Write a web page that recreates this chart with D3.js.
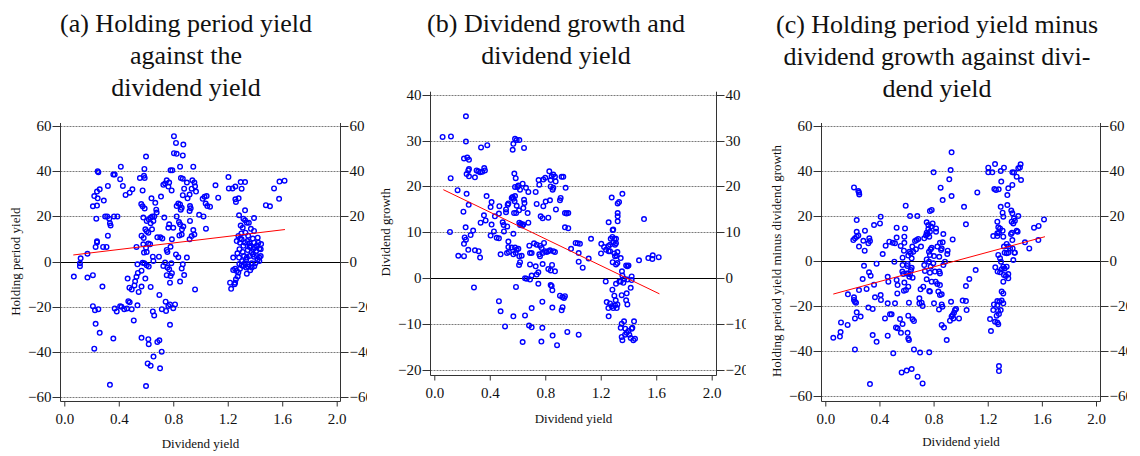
<!DOCTYPE html>
<html>
<head>
<meta charset="utf-8">
<script src="https://cdn.jsdelivr.net/npm/d3@7"></script>
<style>
  body { margin: 0; background: #fff; }
  svg text { font-family: "Liberation Serif", "Times New Roman", serif; fill: #111; }
</style>
</head>
<body>
<svg id="chart" width="1140" height="456"></svg>
<script>
// ---- data ----
const xTicks = [0, 0.4, 0.8, 1.2, 1.6, 2.0]
const yTicksA = [-60, -40, -20, 0, 20, 40, 60]
const yTicksB = [-20, -10, 0, 10, 20, 30, 40]
const yTicksC = [-60, -40, -20, 0, 20, 40, 60]

const titleA = ["(a) Holding period yield", "against the", "dividend yield"]
const titleB = ["(b) Dividend growth and", "dividend yield"]
const titleC = ["(c) Holding period yield minus", "dividend growth against divi-", "dend yield"]

const xLabel = "Dividend yield"
const yLabelA = "Holding period yield"
const yLabelB = "Dividend growth"
const yLabelC = "Holding period yield minus dividend growth"

// fitted lines (end points)
const fitA = [[0.066, 2.95], [1.62, 14.2]]
const fitB = [[0.065, 19.3], [1.623, -3.4]]
const fitC = [[0.059, -14.7], [1.623, 10.8]]

// (a) holding period yield vs dividend yield
const pointsA = [
[0.07,-6.6],[0.12,1.5],[0.115,-0.7],[0.115,-2],[0.17,3.5],[0.17,-7],[0.21,-6],[0.21,-19.7],[0.225,-21.5],[0.25,-21],
[0.23,-27.5],[0.22,-38.5],[0.26,-31.5],[0.28,-11],[0.21,24.5],[0.24,24.8],[0.22,29],[0.24,31],[0.26,32],[0.245,40],
[0.25,39.5],[0.245,28],[0.235,19],[0.24,9],[0.24,8.5],[0.23,6.5],[0.285,6.5],[0.31,6.5],[0.29,27],[0.32,33.5],
[0.3,20],[0.315,20],[0.33,19],[0.335,17],[0.34,16],[0.32,11.5],[0.365,20],[0.36,38.5],[0.37,38.5],[0.335,-54.5],
[0.36,-34],[0.37,-20.7],[0.385,-22],[0.39,20],
[0.415,42],[0.41,36.5],[0.43,33.5],[0.45,29.5],[0.48,30.5],[0.5,32],[0.41,-19.7],[0.42,-20],[0.44,-21],[0.46,-20.7],
[0.47,-17.5],[0.48,-18],[0.495,-21],[0.465,-7.5],[0.478,-11.5],[0.495,-12.3],[0.51,-26],[0.515,-10.5],[0.52,-8.7],[0.53,-6.7],
[0.54,-5],[0.537,-1.2],[0.546,-13.4],[0.537,-19.3],[0.53,6.5],[0.555,37],[0.585,38],[0.59,37],[0.588,41],[0.6,46.5],
[0.575,31.5],[0.565,25.5],[0.575,24.5],[0.59,23.5],[0.58,19.5],[0.567,11.5],[0.583,10.5],[0.595,14.3],[0.605,13.5],[0.617,12.8],
[0.605,18],[0.62,18.7],[0.635,19.5],[0.646,20],[0.654,18],[0.66,20],[0.668,26],[0.64,28],[0.675,23],[0.678,21.7],
[0.644,14.3],[0.634,17],[0.58,7.7],[0.6,6.2],[0.617,8],[0.63,7.7],[0.605,4.3],[0.585,4],[0.575,-0.5],[0.567,-4],
[0.588,-0.7],[0.605,-1.6],[0.62,-2.2],[0.595,-7.5],[0.567,-11],[0.634,-11.2],[0.65,2.2],[0.654,0.3],[0.683,10.8],[0.705,10.8],
[0.72,10.2],[0.695,2.2],[0.698,-14.7],[0.716,-21],[0.65,-22],[0.66,-23.8],[0.567,-33.7],[0.617,-34.3],[0.62,-36.5],[0.683,-35.5],
[0.698,-34.8],[0.715,-39.8],[0.655,-42],[0.612,-45],[0.634,-46],[0.703,-47.2],[0.6,-55],[0.71,28.8],[0.727,34],[0.74,34.6],
[0.752,36],[0.764,33.2],[0.77,35],[0.78,40.4],[0.793,40.4],[0.788,31.5],[0.734,19.5],[0.77,16.5],[0.764,15],[0.8,15],
[0.79,9.9],[0.78,6.6],[0.752,5.2],[0.757,4.3],[0.74,-0.4],[0.727,-1.9],[0.757,-2.6],[0.77,-3.4],[0.752,-6],[0.786,-0.7],
[0.78,-6.3],[0.79,-5.1],[0.776,-9.3],[0.744,-17.7],[0.764,-19.6],[0.776,-18.9],[0.813,-18.9],[0.747,-21.8],[0.776,-27.9],[0.8,-20.6],
[0.805,55.5],[0.82,52.5],[0.874,51.8],[0.805,48],[0.825,47.7],[0.87,47],[0.85,42],[0.947,42],[0.856,37],[0.87,36.7],
[0.88,32.3],[0.9,35],[0.94,36],[0.955,35],[0.96,33.3],[0.935,32.3],[0.967,31],[0.92,29.7],[0.905,28],[0.923,24.6],
[0.928,23.6],[0.87,29.4],[0.825,24.6],[0.837,25.7],[0.85,25.3],[0.862,23.8],[0.855,23],[0.825,20],[0.842,17.5],[0.85,16.5],
[0.864,14.3],[0.874,15.5],[0.862,12],[0.845,11.6],[0.92,22.4],[0.923,18],[0.92,9.9],[0.935,11.3],[0.947,14],[0.955,12],
[0.9,1.8],[0.82,3.2],[0.837,2],[0.87,-1.2],[0.862,-3],[0.85,-8.8],[0.88,-5.9],[0.96,-12.3],[0.99,20.7],[1.022,20],
[1.016,27.8],[1.03,28.7],[1.045,29],[1.038,25.7],[1.05,24.6],[1.07,24.3],[1.04,14.6],[1.11,33.8],[1.13,28.3],[1.205,37.4],
[1.208,32.4],[1.235,32.4],[1.256,33.2],[1.217,-9.3],[1.225,-12],
[1.295,35.2],[1.327,35.2],[1.302,32.3],[1.256,27.6],[1.28,28],[1.26,26.4],[1.327,22.7],[1.283,20.5],[1.295,16],[1.315,19],
[1.327,18.3],[1.34,17.2],[1.355,17.2],[1.31,15],[1.393,19.3],[1.393,13.6],[1.278,11.4],[1.29,10.2],[1.266,9.1],[1.29,8.4],
[1.302,9.9],[1.315,7],[1.327,8.4],[1.344,9.1],[1.359,8.1],[1.369,7],[1.384,10.2],[1.393,8.4],[1.4,6.2],[1.413,7.2],
[1.425,8.4],[1.432,5.7],[1.442,5.5],[1.388,5.5],[1.376,4.3],[1.347,5.1],[1.31,4.3],[1.286,5.5],[1.271,3.7],[1.24,1.8],
[1.283,1.8],[1.32,2.5],[1.34,1.8],[1.36,2.5],[1.393,2.2],[1.413,2.5],[1.432,1.8],[1.442,2.5],[1.432,0.3],[1.403,-0.7],
[1.376,-0.7],[1.35,-1.2],[1.325,-0.7],[1.315,-1.9],[1.335,-2.6],[1.35,-2.2],[1.376,-2.6],[1.302,-1.6],[1.29,-3.1],[1.254,-3.1],
[1.24,-3.7],[1.266,-4.1],[1.278,-4.8],[1.34,-5.3],[1.273,-6.6],[1.26,-7.8],[1.254,-9.3],[1.25,-10],[1.48,25],[1.51,24.5],
[1.54,32.4],[1.58,35.4],[1.617,35.8],[1.577,27.8],
[1.36,6.5],[1.385,3.2],[1.41,4.8],[1.42,1],[1.335,0.8],[1.305,0.2],[1.365,-3.8],[1.395,-2],[1.35,11.5],[1.37,14.5],
[1.3,12.5],[1.33,12.8],[1.42,10.6],[1.445,7.8],[1.285,-1]
]

// (b) dividend growth vs dividend yield
const pointsB = [
[0.06,30.8],[0.12,30.9],[0.228,35.3],[0.228,29.8],[0.118,21.8],[0.113,10.1],[0.168,19.2],[0.214,26.1],[0.238,26.3],[0.25,25.8],
[0.25,23.8],[0.245,23.5],[0.233,22.7],[0.25,22.2],[0.293,22],[0.305,23.5],[0.317,23.3],[0.33,23.1],[0.346,23.2],[0.36,24],
[0.365,23.5],[0.337,28.5],[0.382,29],[0.233,18.4],[0.248,16],[0.21,14.5],[0.226,11.1],[0.219,8.9],[0.228,8.4],[0.214,7.5],
[0.245,6.2],[0.262,9.4],[0.28,10.4],[0.173,4.9],[0.214,4.8],[0.293,6.1],[0.32,5.9],[0.33,4.5],[0.286,-2],[0.334,12.1],
[0.358,13.7],[0.37,12.6],[0.377,17.9],[0.406,9.3],[0.413,11.7],[0.413,16.6],[0.406,15.5],[0.43,10.2],[0.437,13.5],[0.45,8.8],
[0.469,15.7],[0.466,14.1],[0.478,5.2],[0.466,8.7],[0.493,12.2],[0.5,11.6],[0.502,10.2],[0.517,14.4],[0.517,15],[0.526,11.3],
[0.529,16],[0.534,16.3],[0.534,8],[0.534,6.8],[0.524,5.5],[0.538,5.7],[0.558,17.5],[0.565,17.7],[0.57,17.3],[0.582,17.9],
[0.579,16.8],[0.565,28],[0.57,29.3],[0.582,30.4],[0.594,30.1],[0.613,30.1],[0.647,28.4],[0.577,22.8],[0.587,21.8],[0.582,19.9],
[0.599,19.9],[0.606,20.2],[0.618,19.3],[0.637,20.6],[0.661,19.7],[0.678,18.8],[0.647,17.1],[0.65,16.4],[0.594,15.8],[0.575,14.2],
[0.59,14.2],[0.611,14.8],[0.642,15.3],[0.673,14.2],[0.613,12.1],[0.625,11.9],[0.635,11.5],[0.642,11.7],[0.618,11.6],[0.678,12.1],
[0.57,9.7],[0.558,6.7],[0.582,6.7],[0.594,6.2],[0.606,6.4],[0.57,5.2],[0.587,5.5],[0.613,4.8],[0.63,4.9],[0.611,2.9],
[0.618,3.5],[0.654,0],[0.666,-0.1],[0.69,3],[0.69,-0.3],[0.702,0.6],[0.702,5.5],[0.69,5.5],[0.685,7.1],[0.719,7.6],
[0.738,7.3],[0.738,16.2],[0.731,18.8],[0.752,21.4],[0.757,20.4],[0.762,7.1],[0.774,6.6],[0.757,5.2],[0.762,4.8],[0.781,5.5],
[0.791,7.7],[0.798,5.9],[0.81,5.7],[0.822,5.9],[0.834,6.1],[0.858,5.9],[0.87,5.7],[0.767,13.5],[0.781,13.1],[0.822,13.2],
[0.786,15.7],[0.803,16.7],[0.834,17],[0.786,21.5],[0.8,21.9],[0.829,23.3],[0.839,21.4],[0.853,19.3],[0.846,22.2],[0.858,22.6],
[0.87,22.1],[0.875,21.1],[0.858,19.7],[0.839,20],[0.877,15],[0.911,17.5],[0.918,22.1],[0.93,22.1],[0.947,19.7],[0.906,17],
[0.942,14.2],[0.954,14.1],[0.966,14.2],[0.942,11.1],[0.966,10.9],[0.731,2.6],[0.75,1.3],[0.738,0.8],[0.781,3.1],[0.822,2],
[0.839,1.7],[0.87,1.5],[0.849,2.9],[0.75,-1.2],[0.839,-1.5],[0.846,-1.7],[0.851,-2.6],[0.906,-3.8],[0.923,-4.1],[0.935,-4.3],
[0.942,-3.9],[0.925,-6.3],[0.918,-7],[0.779,-5.1],[0.851,-6.4],[0.702,-6.5],[0.589,-1.9],[0.654,-8.1],[0.683,-10.3],
[0.702,-10.7],[0.779,-10.8],[0.51,-10.5],[0.57,-8.3],[0.466,-5],[0.478,-7.2],[0.637,-13.9],[0.772,-13.8],[0.853,-12.5],[0.885,-14.6],
[0.959,-11.7],[1.041,-12.3],[0.986,6.4],[1.019,7.7],[1.034,7.6],[1.05,7.5],[1.041,5.5],[1.041,3.6],[1.07,2.3],[1.113,4.3],
[1.13,8.6],[1.204,7.5],[1.202,5.4],[1.224,6.8],[1.238,6.2],[1.255,7],[1.267,7.3],[1.257,12.2],[1.272,8.6],[1.284,9],
[1.286,10.5],[1.29,10.6],[1.279,17.6],[1.298,8.6],[1.31,8.6],[1.29,7.8],[1.303,7.3],[1.31,7.6],[1.257,5.9],[1.267,5.9],
[1.286,3.5],[1.298,5.4],[1.303,4.8],[1.315,4.9],[1.31,3],[1.32,3.3],[1.344,4.4],[1.32,5.7],[1.322,16.3],[1.332,16.6],
[1.322,14.2],[1.322,13.5],[1.322,12.4],[1.356,18.4],[1.353,1.5],[1.356,0.6],[1.37,-0.1],[1.363,-1],[1.392,-0.3],[1.4,2.8],
[1.392,2.6],[1.383,2.8],[1.423,0.4],[1.423,-0.4],[1.344,-0.7],[1.334,-0.7],[1.31,-1.2],[1.236,-0.7],[1.284,-2.5],[1.298,-3.8],
[1.351,-3.7],[1.387,-3.3],[1.383,-4.8],[1.392,-5.7],[1.416,-2.1],[1.243,-5.2],[1.255,-6.5],[1.267,-5.5],[1.279,-6.1],[1.29,-6.5],
[1.303,-5.9],[1.315,-6.5],[1.308,-4.8],[1.32,-5.7],[1.257,-8.3],[1.344,-10.8],[1.351,-9.9],[1.368,-9.4],[1.351,-12.8],[1.356,-13.5],
[1.375,-12.3],[1.387,-11.9],[1.399,-11.5],[1.406,-12.3],[1.377,-11],[1.423,-11],[1.428,-10.8],[1.44,-9.4],[1.416,-13],[1.435,-13.5],
[1.447,-13.2],[1.512,12.9],[1.476,3.9],[1.543,4.4],[1.575,5],[1.572,4.2],[1.618,4.6]
]

// (c) holding period yield minus dividend growth vs dividend yield
const pointsC = [
[0.059,-34.1],[0.108,-33.6],[0.113,-31.6],[0.116,-27.3],[0.165,-28.4],[0.167,-14.8],[0.212,32.7],[0.244,31.1],[0.249,30.4],[0.251,29.6],
[0.207,9.3],[0.219,10.1],[0.232,10.8],[0.244,11.3],[0.232,13],[0.232,18.2],[0.249,6.4],[0.281,9],[0.293,13.5],[0.318,7.9],
[0.325,10.1],[0.33,8.9],[0.291,4.6],[0.286,-2.1],[0.276,-8],[0.323,-5],[0.335,-6.5],[0.305,-12.4],[0.212,-16.1],[0.212,-17.3],
[0.219,-18.1],[0.227,-18.5],[0.249,-12.9],[0.232,-22.8],[0.219,-25.5],[0.261,-24.7],[0.318,-20.7],[0.35,-21.3],[0.35,-32.9],[0.379,-35.9],
[0.219,-39.3],[0.33,-54.7],[0.36,-10.5],[0.367,-16.1],[0.36,16],[0.404,16.7],[0.409,19.7],[0.379,-1.2],[0.424,3.1],[0.409,-15.1],
[0.411,-17.3],[0.441,-25.5],[0.446,6.8],[0.461,-7],[0.473,8.6],[0.466,-9.2],[0.461,-18.8],[0.461,-33.2],[0.478,-23.7],[0.49,-23.7],
[0.498,8.1],[0.515,7.9],[0.527,10.4],[0.527,14.8],[0.502,-41],[0.515,-18.8],[0.51,-0.3],[0.527,-8.4],[0.534,-10.7],[0.532,-14.4],
[0.522,-29.5],[0.534,-29.9],[0.552,-25.8],[0.559,-31.9],[0.571,-28],[0.564,-49.5],[0.557,6.7],[0.571,1.5],[0.581,4.6],[0.584,8.1],
[0.584,10.8],[0.589,14.5],[0.594,24.6],[0.571,-1.8],[0.569,-4.7],[0.576,-5.8],[0.584,-9.6],[0.581,-13.2],[0.596,-12.9],[0.601,-5.5],
[0.606,-2.2],[0.608,-1.3],[0.613,2.4],[0.621,4.1],[0.631,3.4],[0.613,-5.5],[0.626,-5.9],[0.621,-7],[0.633,-4],[0.638,-3],
[0.638,1.2],[0.643,6.4],[0.65,4.1],[0.626,20],[0.68,20],[0.613,-11.4],[0.618,-18.5],[0.613,-24.3],[0.608,-31.9],[0.613,-34.4],
[0.618,-35.1],[0.601,-48.7],[0.638,-48],[0.645,-7.4],[0.645,-25.9],[0.655,-26.7],[0.655,-39.3],[0.663,8.9],[0.675,9.3],[0.67,5.2],
[0.687,9.8],[0.682,-51.4],[0.7,-40.7],[0.695,-16.6],[0.695,-18.8],[0.704,-12.6],[0.707,6.4],[0.712,-18.5],[0.719,-20],[0.719,-54.4],
[0.724,-11.4],[0.731,-1.8],[0.736,-4.4],[0.731,10.1],[0.744,11.3],[0.749,-8.1],[0.749,0.7],[0.749,17.2],[0.761,16],[0.761,14.2],
[0.749,12.6],[0.756,12],[0.768,10.8],[0.773,13],[0.781,15.3],[0.793,16.7],[0.773,22.2],[0.786,22.7],[0.8,39.4],[0.766,4.1],
[0.773,2.7],[0.778,5.2],[0.786,5.9],[0.766,-0.3],[0.778,-2.5],[0.773,-5.2],[0.768,-13.3],[0.773,-13.6],[0.768,-40.6],[0.786,-9.2],
[0.798,-1],[0.803,2.2],[0.803,-18.8],[0.81,-4.7],[0.815,-9.2],[0.818,14.5],[0.818,13],[0.828,-10.2],[0.828,6.4],[0.835,-13.6],
[0.84,-21.5],[0.842,-4.7],[0.847,-5.5],[0.847,-10.7],[0.847,-15.1],[0.842,1.9],[0.855,4.9],[0.86,5.6],[0.847,8.1],[0.867,8.3],
[0.872,-1.8],[0.86,-14.8],[0.86,-19.3],[0.865,-20.3],[0.852,32.6],[0.867,27.1],[0.872,12],[0.877,-29.6],[0.86,-28.4],[0.884,-0.3],
[0.897,-35.1],[0.901,3.1],[0.904,4.6],[0.916,36.3],[0.926,40.4],[0.933,48.3],[0.933,28.9],[0.941,9.6],[0.921,-26.5],[0.929,-18.1],
[0.933,-24.7],[0.941,-24],[0.951,-23],[0.958,-21.8],[0.966,-21.3],[0.946,-25.5],[0.988,-25.5],[1.015,-17.6],[1.025,24.1],[1.039,16.3],
[1.039,-11.1],[1.039,-17.8],[1.044,-21.8],[1.064,-8],[1.111,-4],[1.123,30.5],[1.204,39.4],[1.204,41.5],[1.234,39.4],[1.254,43.1],
[1.32,41.5],[1.296,40],[1.249,32],[1.261,31.6],[1.281,31.9],[1.3,35.3],[1.352,32.3],[1.345,29.3],[1.382,39.4],[1.394,39.3],
[1.414,37.5],[1.426,41.2],[1.438,41.6],[1.443,43],[1.446,36],[1.382,33.8],[1.296,24.1],[1.31,21.5],[1.315,19.7],[1.345,24.9],
[1.374,22.4],[1.382,21.2],[1.394,19],[1.377,17.5],[1.389,16.7],[1.401,17.9],[1.426,20],[1.271,17.5],[1.278,15],[1.291,14.5],
[1.271,12.3],[1.283,12.6],[1.241,11.1],[1.271,11.1],[1.31,13.5],[1.315,10.8],[1.372,12],[1.379,12.6],[1.414,13.5],[1.421,13],
[1.382,9.3],[1.475,8.3],[1.507,5.6],[1.542,14.8],[1.576,15.6],[1.616,18.5],[1.574,9.3],[1.34,7.6],[1.352,6.4],[1.365,5.6],
[1.384,5.6],[1.397,3.7],[1.401,3.7],[1.389,0.4],[1.32,6.4],[1.325,3.7],[1.34,3.4],[1.352,3.7],[1.278,2.7],[1.291,1.2],
[1.298,-0.3],[1.315,-2.5],[1.325,-3.3],[1.34,-2.5],[1.303,-3.7],[1.291,-5],[1.273,-4.7],[1.256,-2.8],[1.32,-6.2],[1.335,-6.7],
[1.352,-5.8],[1.352,-7.7],[1.315,-9.2],[1.303,-13.6],[1.315,-14.4],[1.271,-17.8],[1.286,-18.1],[1.303,-17.6],[1.315,-18.8],[1.246,-19.3],
[1.271,-19.6],[1.241,-21.8],[1.276,-22.2],[1.296,-21.8],[1.283,-23.6],[1.266,-24.3],[1.254,-27],[1.271,-27.3],[1.278,-28.1],[1.217,-25.8],
[1.224,-31.1],[1.283,-46.7],[1.283,-48.9]
]

// ---- layout (pixel boxes of each panel) ----
const panels = [
  { title: titleA, yLabel: yLabelA, points: pointsA, fit: fitA, yTicks: yTicksA,
    x0: 64.3, x1: 336.7, yTop: 126, yBot: 397.3, axisL: 60.5, axisR: 340.5, axisB: 401.5,
    clipR: 367, titleX: 186, titleY: 31.7, yLabelX: 20, xLabelY: 448 },
  { title: titleB, yLabel: yLabelB, points: pointsB, fit: fitB, yTicks: yTicksB,
    x0: 434.3, x1: 711.7, yTop: 94.7, yBot: 370, axisL: 430.5, axisR: 716.5, axisB: 375.5,
    clipR: 746, titleX: 556, titleY: 31.7, yLabelX: 390, xLabelY: 423 },
  { title: titleC, yLabel: yLabelC, points: pointsC, fit: fitC, yTicks: yTicksC,
    x0: 825.3, x1: 1096, yTop: 126, yBot: 396, axisL: 821.5, axisR: 1100.5, axisB: 401.5,
    clipR: 1127, titleX: 937, titleY: 33, yLabelX: 781, xLabelY: 446 }
]

const svg = d3.select("#chart")
const defs = svg.append("defs")
const fmt = d3.format(".1f")

panels.forEach(function(p, i){
	const x = d3.scaleLinear().domain([0, 2]).range([p.x0, p.x1])
	const yMin = d3.min(p.yTicks), yMax = d3.max(p.yTicks)
	const y = d3.scaleLinear().domain([yMin, yMax]).range([p.yBot, p.yTop])
	// crisp horizontal rules
	const yc = function(d){ return Math.round(y(d)) + 0.5 }

	defs.append("clipPath").attr("id", "clip" + i)
		.append("rect").attr("x", p.axisL - 60).attr("y", 0)
		.attr("width", p.clipR - p.axisL + 60).attr("height", 456)

	const g = svg.append("g").attr("clip-path", "url(#clip" + i + ")")

	// title
	g.append("text")
		.attr("text-anchor", "middle")
		.attr("font-size", 26)
		.selectAll("tspan")
		.data(p.title)
	.enter().append("tspan")
		.attr("x", p.titleX)
		.attr("y", function(d, j){ return p.titleY + j * 32 })
		.text(function(d){ return d })

	// grid lines
	g.selectAll(".grid")
		.data(p.yTicks)
	.enter().append("line")
		.attr("x1", p.axisL).attr("x2", p.axisR)
		.attr("y1", yc).attr("y2", yc)
		.attr("stroke", function(d){ return d === 0 ? "#000" : "#7a7a7a" })
		.attr("stroke-width", 1)
		.attr("stroke-dasharray", function(d){ return d === 0 ? null : "2,1" })

	// left and right y axes
	const axisTop = p.yTop - 3
	const left = d3.axisLeft(yc).tickValues(p.yTicks).tickSize(8).tickPadding(1).tickFormat(d3.format("d"))
	const right = d3.axisRight(yc).tickValues(p.yTicks).tickSize(8).tickPadding(1).tickFormat(d3.format("d"))

	const gl = g.append("g").attr("transform", "translate(" + p.axisL + ",0)").call(left.scale(y))
	const gr = g.append("g").attr("transform", "translate(" + p.axisR + ",0)").call(right.scale(y))
	;[gl, gr].forEach(function(a){
		a.select(".domain").remove()
		a.selectAll(".tick").attr("transform", function(d){ return "translate(0," + yc(d) + ")" })
		a.selectAll("line").attr("stroke", "#333")
		a.selectAll("text").attr("font-size", 15)
			.attr("font-family", "Liberation Serif, Times New Roman, serif").attr("fill", "#111")
		a.append("line").attr("y1", axisTop).attr("y2", p.axisB).attr("stroke", "#333")
	})

	// bottom x axis
	const bottom = d3.axisBottom(x).tickValues(xTicks).tickSize(5).tickPadding(7).tickFormat(fmt)
	const gb = g.append("g").attr("transform", "translate(0," + p.axisB + ")").call(bottom)
	gb.select(".domain").remove()
	gb.append("line").attr("x1", p.axisL).attr("x2", p.axisR).attr("stroke", "#333")
	gb.selectAll("line").attr("stroke", "#333")
	gb.selectAll("text").attr("font-size", 15)
		.attr("font-family", "Liberation Serif, Times New Roman, serif").attr("fill", "#111")

	// axis titles
	g.append("text")
		.attr("x", (p.axisL + p.axisR) / 2).attr("y", p.xLabelY)
		.attr("text-anchor", "middle").attr("font-size", 13)
		.text(xLabel)
	g.append("text")
		.attr("transform", "translate(" + p.yLabelX + "," + ((p.yTop + p.yBot) / 2) + ") rotate(-90)")
		.attr("text-anchor", "middle").attr("font-size", 13)
		.text(p.yLabel)

	// points
	g.append("g").selectAll("circle")
		.data(p.points)
	.enter().append("circle")
		.attr("cx", function(d){ return x(d[0]) })
		.attr("cy", function(d){ return y(d[1]) })
		.attr("r", 2.3)
		.attr("fill", "none")
		.attr("stroke", "#0000ff")
		.attr("stroke-width", 1.4)

	// fitted line
	g.append("line")
		.attr("x1", x(p.fit[0][0])).attr("y1", y(p.fit[0][1]))
		.attr("x2", x(p.fit[1][0])).attr("y2", y(p.fit[1][1]))
		.attr("stroke", "#ff0000").attr("stroke-width", 1)
})
</script>
</body>
</html>
